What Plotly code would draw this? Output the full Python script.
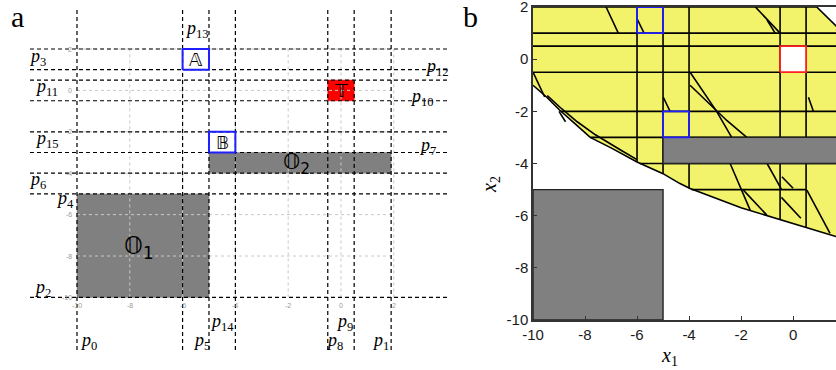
import plotly.graph_objects as go

# ---------------- panel a data ----------------
a_vline_names = ["p0", "p13", "p5", "p14", "p8", "p9", "p1"]
a_vline_x = [-10, -6, -5, -4, -0.5, 0.5, 1.9]
a_hline_names = ["p3", "p12", "p11", "p10", "p15", "p7", "p6", "p4", "p2"]
a_hline_y = [2, 1, 0.5, -0.5, -2, -3, -4, -5, -10]

a_label_sub = ["13", "3", "12", "11", "10", "15", "7", "6", "4", "2", "0", "5", "14", "9", "8", "1"]
a_label_x = [-5.45, -11.48, 3.64, -11.14, 3.07, -11.14, 3.26, -11.48, -10.45, -11.29,
             -9.58, -5.27, -4.51, 0.15, -0.23, 1.48]
a_label_y = [2.92, 1.61, 1.13, 0.12, -0.32, -2.35, -2.73, -4.33, -5.29, -9.55,
             -12.15, -12.15, -11.19, -11.19, -12.15, -12.15]

a_grid_ticks = [-10, -8, -6, -4, -2, 0, 2]
a_grid_labels = ["-10", "-8", "-6", "-4", "-2", "0", "2"]

box_O1 = [-10, -5, -10, -5]
box_O2 = [-5, 1.9, -4, -3]
box_A = [-6, -5, 1, 2]
box_B = [-5, -4, -3, -2]
box_T = [-0.5, 0.5, -0.5, 0.5]

a_xrange = [-11.78, 4.13]
a_yrange = [-12.54, 4.03]

# ---------------- panel b data ----------------
b_xticks = [-10, -8, -6, -4, -2, 0]
b_xticklabels = ["-10", "-8", "-6", "-4", "-2", "0"]
b_yticks = [-10, -8, -6, -4, -2, 0, 2]
b_yticklabels = ["-10", "-8", "-6", "-4", "-2", "0", "2"]

b_curve_x = [-10, -9.47, -8.97, -8.4, -7.8, -7.0, -6.0, -5.0, -4.35, -3.96, -2.0, -1.0, -0.5, 0.5, 1.65, 2.0]
b_curve_y = [-1.0, -1.46, -1.96, -2.46, -3.0, -3.4, -3.94, -4.39, -4.77, -4.96, -5.7, -5.98, -6.14, -6.45, -6.8, -6.9]
b_cut_x = [0.91, 2.0]
b_cut_y = [2.0, 0.93]

b_hline_y = [1, 0.5, -0.5, -2, -3, -4, -5]
b_hline_x0 = [-10, -10, -10, -8.93, -7.8, -5.9, -3.9]
b_hline_x1 = [2, 2, 2, 2, 2, 2, 0.5]

b_vline_x = [-6, -5, -4, -0.5, 0.5]
b_vline_y0 = [2, 2, 2, 2, 2]
b_vline_y1 = [-3.94, -4.39, -4.95, -6.14, -6.45]

b_diag_x = [
    [-7.19, -6.72], [-5.99, -5.73], [-1.45, -0.5], [-1.0, -0.69],
    [-10, -9.55], [-9.0, -8.75],
    [-3.96, -2.94, -2.36], [-3.96, -2.55, -1.78],
    [-4.99, -4.73], [0.59, 0.78],
    [-2.42, -1.65], [-1.91, -1.01], [-1.0, -0.44], [-0.43, 0.0],
    [-0.45, 0.3], [0.53, 1.42],
    [-9.45, -8.9, -8.3, -7.6, -6.6, -6.0],
]
b_diag_y = [
    [2.0, 1.0], [1.53, 1.0], [2.0, 1.0], [1.5, 1.0],
    [-0.5, -1.45], [-2.0, -2.4],
    [-0.5, -2.0, -3.0], [-1.0, -2.35, -3.0],
    [-1.46, -2.0], [-1.46, -2.0],
    [-4.0, -5.79], [-5.02, -5.98], [-4.0, -5.0], [-4.51, -4.95],
    [-5.3, -6.1], [-5.02, -6.68],
    [-1.4, -1.9, -2.4, -2.9, -3.5, -3.85],
]

b_xrange = [-10, 1.65]
b_yrange = [-10, 2]

YELLOW = "#f3f36b"
GRAY = "#808080"

fig = go.Figure()


def rect_xy(b):
    x0, x1, y0, y1 = b
    return [x0, x1, x1, x0, x0], [y0, y0, y1, y1, y0]


def add_rect(b, xa, ya, fill, line_color, width):
    x, y = rect_xy(b)
    fig.add_trace(go.Scatter(
        x=x, y=y, xaxis=xa, yaxis=ya, mode="lines",
        fill="toself" if fill else None, fillcolor=fill,
        line=dict(color=line_color, width=width), hoverinfo="skip"))


# ===== panel a =====
add_rect(box_O1, "x", "y", GRAY, GRAY, 0.5)
add_rect(box_O2, "x", "y", GRAY, GRAY, 0.5)
add_rect(box_T, "x", "y", "#ff0000", "#ff0000", 0.5)

# light dotted grid
gx, gy = [], []
for t in a_grid_ticks[1:]:
    gx += [t, t, None]
    gy += [a_grid_ticks[0], a_grid_ticks[-1], None]
for t in a_grid_ticks[1:]:
    gx += [a_grid_ticks[0], a_grid_ticks[-1], None]
    gy += [t, t, None]
fig.add_trace(go.Scatter(x=gx, y=gy, xaxis="x", yaxis="y", mode="lines",
                         line=dict(color="#c8c8c8", width=1, dash="dot"), hoverinfo="skip"))

# dashed partition lines
dx, dy = [], []
for v in a_vline_x:
    dx += [v, v, None]
    dy += [a_yrange[0], a_yrange[1], None]
for h in a_hline_y:
    dx += [a_xrange[0], a_xrange[1], None]
    dy += [h, h, None]
fig.add_trace(go.Scatter(x=dx, y=dy, xaxis="x", yaxis="y", mode="lines",
                         line=dict(color="black", width=1.2, dash="4px,3px"), hoverinfo="skip"))

add_rect(box_A, "x", "y", None, "#1f1fff", 2)
add_rect(box_B, "x", "y", None, "#1f1fff", 2)

# ===== panel b =====
poly_x = [-10, b_cut_x[0], b_cut_x[1]] + [2.0] + b_curve_x[::-1]
poly_y = [2, b_cut_y[0], b_cut_y[1]] + [b_curve_y[-1]] + b_curve_y[::-1]
fig.add_trace(go.Scatter(x=poly_x, y=poly_y, xaxis="x2", yaxis="y2", mode="lines",
                         fill="toself", fillcolor=YELLOW,
                         line=dict(color="black", width=1.6), hoverinfo="skip"))

lx, ly = [], []
for y, x0, x1 in zip(b_hline_y, b_hline_x0, b_hline_x1):
    lx += [x0, x1, None]
    ly += [y, y, None]
for x, y0, y1 in zip(b_vline_x, b_vline_y0, b_vline_y1):
    lx += [x, x, None]
    ly += [y0, y1, None]
for xs, ys in zip(b_diag_x, b_diag_y):
    lx += xs + [None]
    ly += ys + [None]
fig.add_trace(go.Scatter(x=lx, y=ly, xaxis="x2", yaxis="y2", mode="lines",
                         line=dict(color="black", width=1.6), hoverinfo="skip"))

add_rect(box_O2, "x2", "y2", GRAY, "#222222", 1.4)
add_rect(box_O1, "x2", "y2", GRAY, "#222222", 1.4)
add_rect(box_A, "x2", "y2", None, "#1f1fff", 1.8)
add_rect(box_B, "x2", "y2", None, "#1f1fff", 1.8)
add_rect(box_T, "x2", "y2", "white", "#ff2020", 1.8)

# ===== annotations =====
ann = []
SERIF = "Liberation Serif, DejaVu Serif, serif"
for sub, x, y in zip(a_label_sub, a_label_x, a_label_y):
    ann.append(dict(x=x, y=y, xref="x", yref="y", showarrow=False,
                    text="<i>p</i><sub>%s</sub>" % sub,
                    font=dict(family=SERIF, size=18, color="black")))
for t, lab in zip(a_grid_ticks, a_grid_labels):
    ann.append(dict(x=t, y=-10.4, xref="x", yref="y", showarrow=False, text=lab,
                    font=dict(family="Liberation Sans", size=7, color="#999999")))
    ann.append(dict(x=-10.12, y=t, xref="x", yref="y", showarrow=False, text=lab,
                    xanchor="right", font=dict(family="Liberation Sans", size=7, color="#999999")))

DS = "DejaVu Sans, DejaVu Serif, Noto Sans, serif"
ann.append(dict(x=-5.5, y=1.5, xref="x", yref="y", showarrow=False, text="𝔸",
                font=dict(family=DS, size=18, color="black")))
ann.append(dict(x=-4.5, y=-2.5, xref="x", yref="y", showarrow=False, text="𝔹",
                font=dict(family=DS, size=18, color="black")))
ann.append(dict(x=0, y=0, xref="x", yref="y", showarrow=False, text="𝕋",
                font=dict(family=DS, size=18, color="black")))
ann.append(dict(x=-1.67, y=-3.55, xref="x", yref="y", showarrow=False, text="𝕆<sub>2</sub>",
                font=dict(family=DS, size=22, color="black")))
ann.append(dict(x=-7.65, y=-7.6, xref="x", yref="y", showarrow=False, text="𝕆<sub>1</sub>",
                font=dict(family=DS, size=24, color="black")))

ann.append(dict(x=17 / 836, y=1 - 17 / 370, xref="paper", yref="paper", showarrow=False, text="a",
                xanchor="center", yanchor="middle",
                font=dict(family=SERIF, size=30, color="black")))
ann.append(dict(x=470 / 836, y=1 - 17 / 370, xref="paper", yref="paper", showarrow=False, text="b",
                xanchor="center", yanchor="middle",
                font=dict(family=SERIF, size=30, color="black")))
ann.append(dict(x=669 / 836, y=1 - 356 / 370, xref="paper", yref="paper", showarrow=False,
                xanchor="center", yanchor="middle",
                text="<i>x</i><sub>1</sub>", font=dict(family=SERIF, size=20, color="black")))
ann.append(dict(x=490 / 836, y=1 - 185 / 370, xref="paper", yref="paper", showarrow=False,
                xanchor="center", yanchor="middle",
                text="<i>x</i><sub>2</sub>", textangle=-90, font=dict(family=SERIF, size=20, color="black")))

TICKFONT = dict(family="Liberation Sans, Arial, sans-serif", size=15, color="#1a1a1a")
fig.update_layout(
    width=836, height=370, margin=dict(l=0, r=0, t=0, b=0, autoexpand=False),
    paper_bgcolor="white", plot_bgcolor="white", showlegend=False, hovermode=False,
    annotations=ann,
    xaxis=dict(domain=[30 / 836, 450 / 836], range=a_xrange, visible=False, fixedrange=True,
               automargin=False),
    yaxis=dict(domain=[1 - 350 / 370, 1 - 7 / 370], range=a_yrange, visible=False, fixedrange=True,
               automargin=False),
    xaxis2=dict(domain=[533 / 836, 1.0], range=b_xrange, anchor="y2", showgrid=False, zeroline=False,
                showline=True, mirror=True, linecolor="#333333", linewidth=1.5, automargin=False,
                ticks="inside", ticklen=4, tickcolor="#333333", ticklabeloverflow="allow",
                tickmode="array", tickvals=b_xticks, ticktext=b_xticklabels, tickfont=TICKFONT),
    yaxis2=dict(domain=[1 - 320 / 370, 1 - 7 / 370], range=b_yrange, anchor="x2", showgrid=False,
                zeroline=False, showline=True, mirror=False, linecolor="#333333", linewidth=1.5,
                automargin=False, ticks="inside", ticklen=4, tickcolor="#333333",
                ticklabeloverflow="allow",
                tickmode="array", tickvals=b_yticks, ticktext=b_yticklabels, tickfont=TICKFONT),
)

fig.write_html("out.html", config={"displayModeBar": False},
               post_script="document.body.style.margin='0';document.body.style.padding='0';")
